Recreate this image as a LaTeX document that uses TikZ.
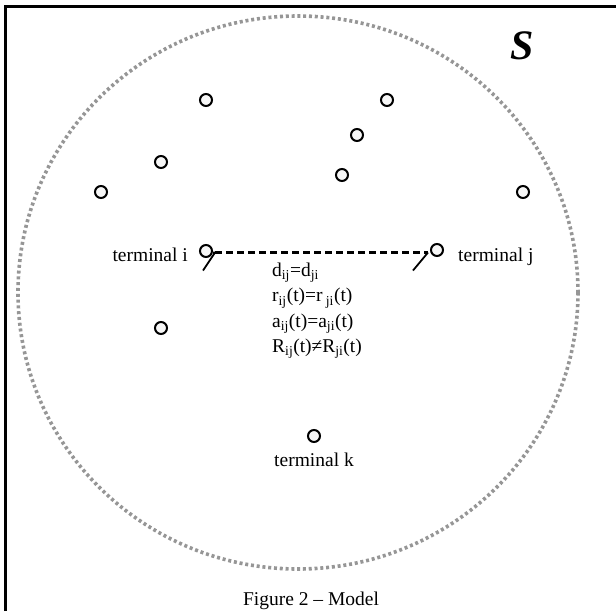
\documentclass[tikz,border=0pt]{standalone}
\usepackage{fontspec}
\setmainfont{Liberation Serif}
\usepackage{xcolor}
\usetikzlibrary{positioning}
\definecolor{areagray}{RGB}{150,150,150}
\definecolor{termfill}{RGB}{246,246,246}

\begin{document}
\begin{tikzpicture}[
			     x=1pt, y=-1pt,
			     term/.style={circle, draw, line width=2pt, fill=termfill, minimum size=12pt, inner sep=0pt},
			     antenna/.style={line width=1.8pt},
			     link/.style={line width=2.2pt, dash pattern=on 7pt off 4pt},
			     lbl/.style={font=\fontsize{19.5}{23}\selectfont, inner sep=0pt},
			     eqn/.style={lbl, text height=14pt, text depth=5pt}
			     ] 
\useasboundingbox (0,0) rectangle (616,611);
% frame (only left and top edge show)
\draw[line width=3pt] (5.5,611) -- (5.5,6.2) -- (616,6.2);
% area S
\draw[areagray, line width=3.6pt, dash pattern=on 3pt off 2.8pt] (298,292.5) ellipse [x radius=280, y radius=276.5];
\node[font=\fontsize{42}{42}\selectfont\bfseries\itshape, inner sep=0pt, anchor=base] (s) at (522,59) {S};
% terminals
\foreach \p [count=\k] in {(206,100),(387,100),(357,135),(161,162),(342,175),(101,192),(523,192),(161,328)}
  \node[term] (n\k) at \p {};
\node[term] (ti) at (206,251) {};
\node[term] (tj) at (437,250) {};
\node[term] (tk) at (314,436) {};
\node[lbl, anchor=base east] (li) at (188,261) {terminal i};
\node[lbl, anchor=base west] (lj) at (458,261) {terminal j};
\node[lbl, below=10pt of tk] (lk) {terminal k};
% link i -- j
\coordinate (ai) at (215,252.5);
\coordinate (aj) at (428,252.5);
\draw[link] (ai) -- (aj);
\draw[antenna] (ti.east |- ai) -- (ai) -- +(-12,18);
\draw[antenna] (aj) -- +(-15,18);
% relations
\node[eqn, anchor=base west] (e1) at (272,276.5) {d\textsubscript{ij}=d\textsubscript{ji}};
\node[eqn, below=6pt of e1.south west, anchor=north west] (e2) {r\textsubscript{ij}(t)=r\,\textsubscript{ji}(t)};
\node[eqn, below=6pt of e2.south west, anchor=north west] (e3) {a\textsubscript{ij}(t)=a\textsubscript{ji}(t)};
\node[eqn, below=6pt of e3.south west, anchor=north west] (e4) {R\textsubscript{ij}(t)≠R\textsubscript{ji}(t)};
% caption
\node[lbl, anchor=base] (cap) at (311,605) {Figure 2 – Model};
\end{tikzpicture}
\end{document}
